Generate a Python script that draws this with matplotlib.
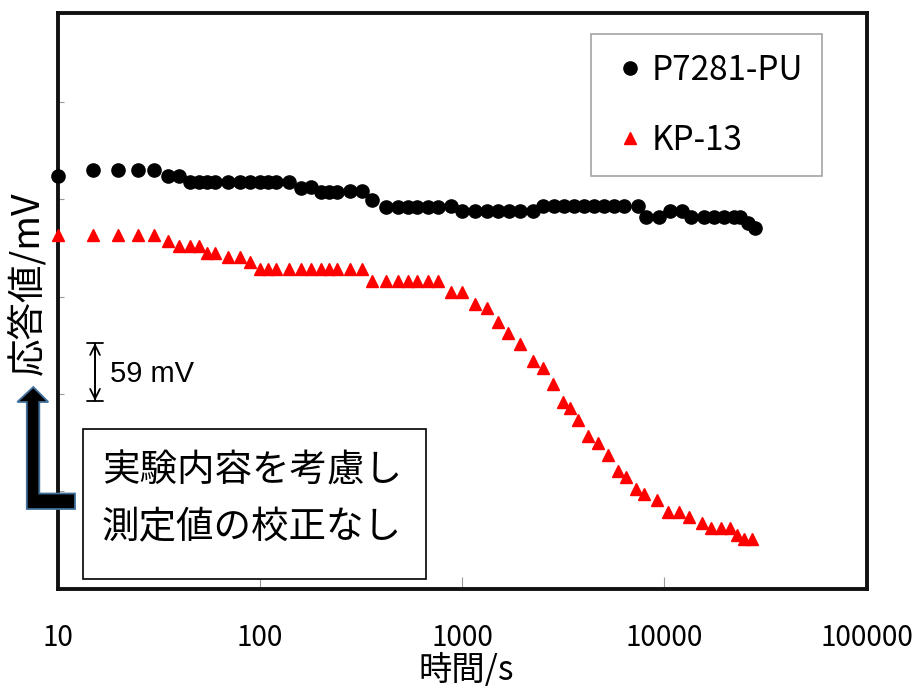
import matplotlib
matplotlib.use("Agg")
import matplotlib.pyplot as plt
from matplotlib.patches import Polygon, Rectangle
from matplotlib.transforms import Affine2D

plt.rcParams['font.family'] = ['Noto Sans CJK JP', 'DejaVu Sans']

# =====================================================
# Data
# =====================================================

series_names = ["P7281-PU", "KP-13"]

time_pu = [10, 15, 20, 25, 30, 35, 40, 45, 50, 55, 60, 70, 80, 90, 100,
           110, 120, 140, 160, 180, 200, 220, 240, 280, 320, 360, 420, 480,
           540, 600, 680, 760, 880, 1000, 1160, 1330, 1510, 1710, 1940, 2250,
           2520, 2840, 3180, 3570, 4000, 4490, 5040, 5660, 6350, 7380, 8100,
           9390, 10660, 12230, 13560, 15730, 17650, 19800, 22220, 23800,
           25800, 28000]
mv_pu = [424, 430, 430, 430, 430, 424, 424, 418, 418, 418, 418, 418, 418,
         418, 418, 418, 418, 418, 412, 413, 407, 407, 407, 408, 408, 399,
         392, 392, 392, 392, 392, 392, 393, 388, 388, 388, 388, 388, 388,
         388, 393, 393, 393, 393, 393, 393, 393, 393, 393, 393, 382, 382,
         388, 388, 382, 382, 382, 382, 382, 382, 376, 370]

time_kp = [10, 15, 20, 25, 30, 35, 40, 45, 50, 55, 60, 70, 80, 90, 100,
           110, 120, 140, 160, 180, 200, 220, 240, 280, 320, 360, 420, 480,
           540, 600, 680, 760, 880, 1000, 1160, 1330, 1510, 1690, 1940, 2250,
           2520, 2820, 3160, 3430, 3750, 4210, 4710, 5280, 5920, 6490, 7270,
           7960, 9230, 10470, 11870, 13300, 15420, 17100, 19150, 21240,
           22980, 24880, 27280]
mv_kp = [363, 363, 363, 363, 363, 357, 352, 352, 352, 345, 345, 341, 341,
         335, 328, 328, 328, 328, 328, 328, 328, 328, 328, 328, 328, 316,
         316, 316, 316, 316, 316, 316, 305, 305, 292, 288, 274, 263, 251,
         234, 227, 210, 192, 185, 173, 157, 150, 137, 121, 115, 102, 97,
         91, 79, 79, 73, 67, 62, 62, 62, 55, 51, 51]

x_ticks = [10, 100, 1000, 10000, 100000]
x_tick_labels = ["10", "100", "1000", "10000", "100000"]
y_ticks = [0, 100, 200, 300, 400, 500]

note_lines = ["実験内容を考慮し", "測定値の校正なし"]
scale_mv = 59

# =====================================================
# Figure
# =====================================================

fig = plt.figure(figsize=(9.21, 6.88), dpi=100)
ax = fig.add_axes([57.5 / 921, 1 - 588.5 / 688, 809 / 921, 575.2 / 688])

ax.plot(time_pu, mv_pu, linestyle="none", marker="o", markersize=9.5,
        color="black", label=series_names[0], clip_on=False, zorder=4)
ax.plot(time_kp, mv_kp, linestyle="none", marker="^", markersize=8.8,
        color="#FF0000", label=series_names[1], clip_on=False, zorder=4)

ax.set_xscale("log")
ax.set_xlim(10, 100000)
ax.set_ylim(0, 591)

ax.set_xticks(x_ticks)
ax.set_xticklabels(x_tick_labels)
ax.xaxis.set_minor_locator(matplotlib.ticker.NullLocator())
ax.set_yticks(y_ticks)
ax.set_yticklabels([])

ax.tick_params(axis="x", direction="in", length=8.5, width=0.8,
               color="#999999", labelsize=20, pad=25)
ax.tick_params(axis="y", direction="in", length=4.5, width=0.8,
               color="#999999")

for side in ["left", "right", "top", "bottom"]:
    ax.spines[side].set_linewidth(2.8)
    ax.spines[side].set_color("#111111")

# the reference crops this label at the bottom edge; keep it just inside
ax.set_xlabel("時間/s", fontsize=24)
ax.xaxis.set_label_coords(0.505, -0.112)
ax.set_ylabel("応答値/mV", fontsize=27, va="center")
ax.yaxis.set_label_coords(-0.0365, 0.531)

# Legend
leg = ax.legend(loc="upper left", bbox_to_anchor=(0.660, 0.9635),
                fontsize=24, frameon=True, fancybox=False,
                borderpad=0.55, labelspacing=1.05, handlelength=1.2,
                handletextpad=0.07, borderaxespad=0)
leg.get_frame().set_edgecolor("#8c8c8c")
leg.get_frame().set_linewidth(1.2)

# 59 mV scale marker
scale_x = 15.33
scale_y0 = 193
ax.annotate("", xy=(scale_x, scale_y0), xytext=(scale_x, scale_y0 + scale_mv),
            arrowprops=dict(arrowstyle="<->,head_length=0.7,head_width=0.35",
                            color="black", lw=1.3, shrinkA=0, shrinkB=0))
ax.annotate("", xy=(scale_x, scale_y0), xytext=(scale_x, scale_y0 + scale_mv),
            arrowprops=dict(arrowstyle="|-|,widthA=0.55,widthB=0.55",
                            color="black", lw=1.3, shrinkA=0, shrinkB=0))
ax.text(0.065, 0.373, f"{scale_mv} mV", transform=ax.transAxes,
        fontsize=21, family="Liberation Sans", va="center", ha="left")

# Note box
ax.add_patch(Rectangle((0.0311, 0.0165), 0.4244, 0.2608,
                       transform=ax.transAxes, facecolor="white",
                       edgecolor="black", lw=1.2, zorder=3))
ax.text(0.055, 0.1869, note_lines[0], transform=ax.transAxes,
        fontsize=27, va="baseline", ha="left", zorder=4)
ax.text(0.055, 0.0878, note_lines[1], transform=ax.transAxes,
        fontsize=27, va="baseline", ha="left", zorder=4)

# Thick L-shaped arrow next to the y label (pixel coords, top-left origin)
px = Affine2D().scale(1 / 921, -1 / 688).translate(0, 1) + fig.transFigure
arrow_shape = [(33.3, 387), (48.3, 402), (39.3, 402), (39.3, 493.5),
               (75, 493.5), (75, 509), (26.8, 509), (26.8, 402), (17.3, 402)]
fig.add_artist(Polygon(arrow_shape, closed=True, transform=px,
                       facecolor="black", edgecolor="#41719C", lw=1.3,
                       zorder=10))

plt.savefig("out.png", dpi=100)
plt.close()
